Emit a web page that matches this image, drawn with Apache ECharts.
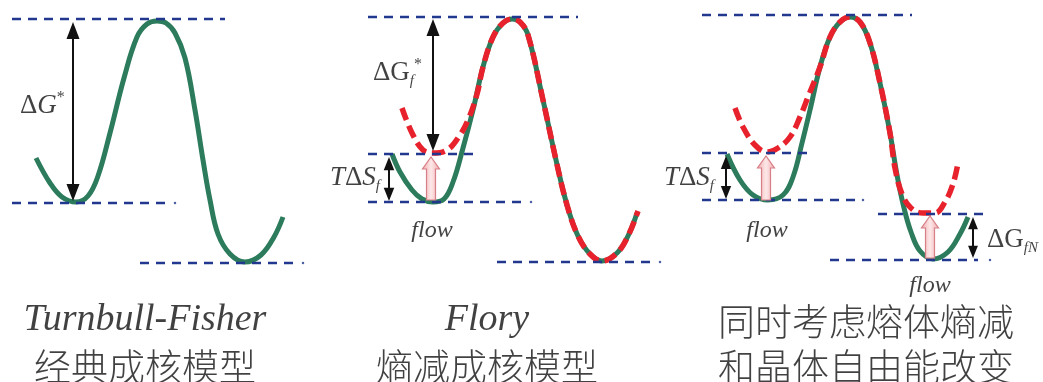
<!DOCTYPE html>
<html>
<head>
<meta charset="utf-8">
<script src="https://cdn.jsdelivr.net/npm/echarts@6/dist/echarts.min.js"></script>
<style>
  html, body { margin: 0; padding: 0; background: #ffffff; }
  #chart { width: 1043px; height: 382px; }
</style>
</head>
<body>
<div id="chart"></div>
<script>
// Free-energy profiles along the nucleation coordinate (y grows downward = lower energy)
const turnbullCurve = [[36,158],[50,183],[62,197],[76,202],[88,196],[98,176],[110,133],[124,78],[137,37],[147,24],[157,21],[166,23],[175,33],[185,58],[195,110],[203,160],[210,200],[218,234],[230,254],[245,262],[261,255],[274,237],[283,217]];
const floryCurve = [[392,154],[400,172],[412,190],[422,199],[433,202],[444,199],[453,182],[463,148],[473,110],[483,67],[493,37],[503,23],[512,19],[520,22],[528,35],[543,100],[556,160],[567,205],[578,236],[590,254],[602,261],[617,253],[628,236],[637,213]];
const floryShifted = [[402,108],[412,133],[423,150],[433,153],[447,150],[458,138],[468,120],[477,94],[483,67],[493,37],[503,23],[512,19],[520,22],[528,35],[543,100],[556,160],[567,205],[578,236],[590,254],[602,261],[617,253],[628,236],[638,211]];
const combinedCurve = [[727,154],[740,180],[753,195],[768,200],[783,195],[793,177],[802,143],[810,110],[820,67],[830,37],[840,22],[850,17],[860,22],[870,43],[880,83],[890,133],[897,175],[904,208],[911,232],[920,251],[933,259],[948,252],[960,234],[968,217]];
const combinedShifted = [[735,108],[743,127],[755,145],[767,152],[778,148],[790,137],[800,117],[808,97],[820,67],[830,37],[840,22],[850,17],[860,22],[870,43],[880,83],[890,133],[895,168],[902,194],[911,208],[923,213],[935,213],[945,202],[953,184],[958,163]];

// Energy reference levels: [level, from, to]
const levels = [
  [19, 12, 225], [203, 12, 172], [263, 140, 297],
  [17, 368, 578], [154, 368, 478], [202, 368, 528], [262, 497, 657],
  [15, 702, 912], [153, 702, 812], [200, 702, 855], [214, 878, 987], [260, 830, 978]
];
// Trailing dot after some level lines: [x, level]
const levelDots = [[175, 203], [303, 263], [531, 202], [660, 262], [863, 200], [990, 260]];

// Barrier / gap double arrows: [x, upper level, lower level]
const gapArrows = [[73, 22, 201], [433, 19, 151], [389, 157, 201], [726, 156, 199], [973, 217, 258]];

// Melt-flow shift arrows: [x, from level, to level]
const flowArrows = [[431, 200, 157], [766, 200, 156], [930, 258, 216]];

// Panel captions
const captionX = [145, 487, 866];
const captionLine1 = ['Turnbull-Fisher', 'Flory', '同时考虑熔体熵减'];
const captionLine2 = ['经典成核模型', '熵减成核模型', '和晶体自由能改变'];

const GREEN = '#2b7b5c';
const RED = '#e8222c';
const BLUE = '#22388e';
const INK = '#111111';
const SERIF = "'Liberation Serif', 'Times New Roman', serif";
const CJK = "'Noto Sans CJK SC', sans-serif";

const rich = {
  d:   { fontFamily: SERIF, fontSize: 27, color: INK, lineHeight: 32, verticalAlign: 'middle' },
  i:   { fontFamily: SERIF, fontSize: 27, color: INK, fontStyle: 'italic', lineHeight: 32, verticalAlign: 'middle' },
  sub: { fontFamily: SERIF, fontSize: 15, color: INK, fontStyle: 'italic', lineHeight: 15, verticalAlign: 'bottom' },
  sup: { fontFamily: SERIF, fontSize: 16, color: INK, lineHeight: 16, verticalAlign: 'top' },
  fl:  { fontFamily: SERIF, fontSize: 24, color: INK, fontStyle: 'italic' },
  cap: { fontFamily: SERIF, fontSize: 38, color: INK, fontStyle: 'italic' },
  zh:  { fontFamily: CJK, fontSize: 37, fontWeight: 300, color: INK }
};

// text annotations: [x, y, rich text, horizontal anchor]
const notes = [
  [20, 106, '{d|Δ}{i|G}{sup|*}', 'left'],
  [373, 73, '{d|ΔG}{sub|f}{sup|*}', 'left'],
  [380, 178, '{i|T}{d|Δ}{i|S}{sub|f}', 'right'],
  [432, 231, '{fl|flow}', 'center'],
  [714, 178, '{i|T}{d|Δ}{i|S}{sub|f}', 'right'],
  [767, 231, '{fl|flow}', 'center'],
  [930, 286, '{fl|flow}', 'center'],
  [987, 240, '{d|ΔG}{sub|fN}', 'left']
];
captionX.forEach((x, k) => {
  notes.push([x, k < 2 ? 320 : 322, k < 2 ? '{cap|' + captionLine1[k] + '}' : '{zh|' + captionLine1[k] + '}', 'center']);
  notes.push([x, 367, '{zh|' + captionLine2[k] + '}', 'center']);
});

const curveSeries = (data, color, width, type, z) => ({
  type: 'line', data, smooth: 0.4, symbol: 'none', silent: true, z,
  lineStyle: { color, width, type, cap: 'butt' }
});

const series = [
  curveSeries(turnbullCurve, GREEN, 5, 'solid', 2),
  curveSeries(floryCurve, GREEN, 5, 'solid', 2),
  curveSeries(combinedCurve, GREEN, 5, 'solid', 2),
  curveSeries(floryShifted, RED, 5.5, [13, 6], 3),
  curveSeries(combinedShifted, RED, 5.5, [13, 6], 3)
];

levels.forEach(l => {
  series.push({
    type: 'line', data: [[l[1], l[0]], [l[2], l[0]]], symbol: 'none', silent: true, z: 4,
    lineStyle: { color: BLUE, width: 2.6, type: [9, 7] }
  });
});

series.push({
  type: 'scatter', z: 4, silent: true, data: levelDots, symbolSize: 2.5,
  itemStyle: { color: BLUE }
});

series.push({
  type: 'custom', z: 5, silent: true, data: flowArrows,
  renderItem: (params, api) => {
    const b = api.coord([api.value(0), api.value(1)]);
    const t = api.coord([api.value(0), api.value(2)]);
    const x = b[0], sw = 4.5, hw = 8.5, hl = 12;
    return {
      type: 'polygon',
      shape: { points: [[x - sw, b[1]], [x + sw, b[1]], [x + sw, t[1] + hl], [x + hw, t[1] + hl], [x, t[1]], [x - hw, t[1] + hl], [x - sw, t[1] + hl]] },
      style: {
        fill: new echarts.graphic.LinearGradient(0, 0, 1, 0, [
          { offset: 0, color: '#f1a9ad' }, { offset: 0.5, color: '#fde8e8' }, { offset: 1, color: '#f1a9ad' }
        ]),
        stroke: '#d77f86', lineWidth: 1.2
      }
    };
  }
});

series.push({
  type: 'custom', z: 6, silent: true, data: gapArrows,
  renderItem: (params, api) => {
    const t = api.coord([api.value(0), api.value(1)]);
    const b = api.coord([api.value(0), api.value(2)]);
    const len = b[1] - t[1];
    const hl = Math.min(17, len * 0.3), hw = Math.min(6.5, len * 0.12);
    const x = t[0];
    return {
      type: 'group',
      children: [
        { type: 'line', shape: { x1: x, y1: t[1] + hl - 1, x2: x, y2: b[1] - hl + 1 }, style: { stroke: '#111', lineWidth: 2 } },
        { type: 'polygon', shape: { points: [[x, t[1]], [x - hw, t[1] + hl], [x + hw, t[1] + hl]] }, style: { fill: '#111' } },
        { type: 'polygon', shape: { points: [[x, b[1]], [x - hw, b[1] - hl], [x + hw, b[1] - hl]] }, style: { fill: '#111' } }
      ]
    };
  }
});

series.push({
  type: 'scatter', z: 7, silent: true, symbolSize: 0,
  data: notes.map(n => ({
    value: [n[0], n[1]],
    label: { show: true, position: [0, 0], formatter: n[2], align: n[3], verticalAlign: 'middle', rich }
  }))
});

const chart = echarts.init(document.getElementById('chart'), null, { renderer: 'canvas' });
chart.setOption({
  animation: false,
  backgroundColor: '#ffffff',
  grid: { left: 0, right: 0, top: 0, bottom: 0 },
  xAxis: { type: 'value', min: 0, max: 1043, show: false },
  yAxis: { type: 'value', min: 0, max: 382, inverse: true, show: false },
  series
});
</script>
</body>
</html>
